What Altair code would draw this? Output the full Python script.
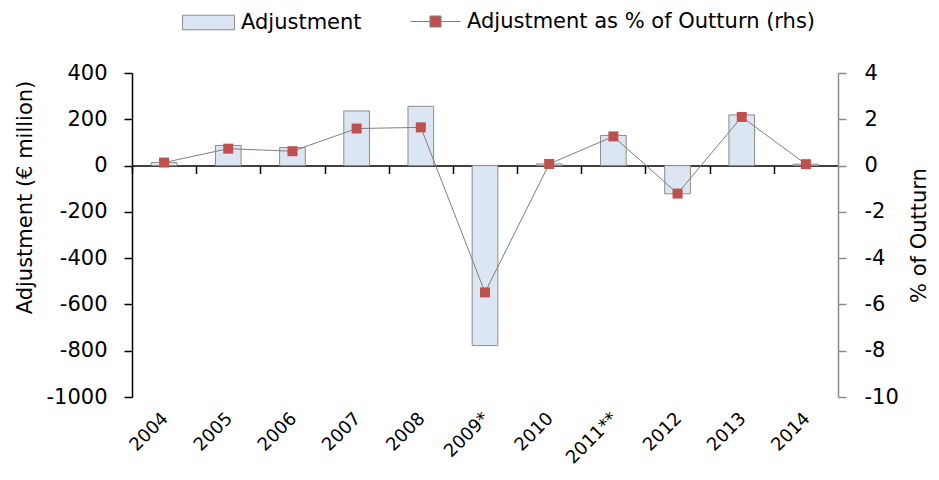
import altair as alt
import pandas as pd

years = ["2004", "2005", "2006", "2007", "2008", "2009*", "2010", "2011**", "2012", "2013", "2014"]
adjustment = [13, 87, 78, 236, 256, -778, 7, 130, -122, 219, 6]
pct_outturn = [0.13, 0.73, 0.62, 1.6, 1.65, -5.48, 0.07, 1.26, -1.21, 2.1, 0.06]
left_ticks = [-1000, -800, -600, -400, -200, 0, 200, 400]
right_ticks = [-10, -8, -6, -4, -2, 0, 2, 4]
bar_label = "Adjustment"
line_label = "Adjustment as % of Outturn (rhs)"
left_title = "Adjustment (€ million)"
right_title = "% of Outturn"

df = pd.DataFrame({
    "year": years,
    "adj": adjustment,
    "pct": pct_outturn,
    "bar_series": [bar_label] * len(years),
    "line_series": [line_label] * len(years),
})

W, H = 706, 324
n = len(years)
step = W / n
zero_off = -H * (0 - left_ticks[0]) / (left_ticks[-1] - left_ticks[0])
FONT = "DejaVu Sans"
FS = 21

x_enc = alt.X(
    "year:N", sort=years, title=None,
    scale=alt.Scale(paddingInner=0.6, paddingOuter=0.3),
    axis=alt.Axis(
        orient="bottom", offset=zero_off, domainColor="black", domainWidth=1.5,
        tickColor="black", tickWidth=1.5, tickSize=8, tickOffset=-step / 2,
        labelOffset=step / 2 + 1, labelAngle=315, labelAlign="right", labelBaseline="middle",
        labelPadding=242, labelFont=FONT, labelFontSize=18, labelColor="black",
    ),
)

bars = alt.Chart(df).mark_bar(stroke="#8c8c8c", strokeWidth=1).encode(
    x=x_enc,
    y=alt.Y(
        "adj:Q",
        scale=alt.Scale(domain=[left_ticks[0], left_ticks[-1]], nice=False),
        axis=alt.Axis(
            values=left_ticks, title=left_title, grid=False, labelExpr="datum.value + ''",
            domainColor="black", domainWidth=1.5, tickColor="black", tickWidth=1.5,
            tickSize=8, labelPadding=17, labelFont=FONT, labelFontSize=FS, labelColor="black",
            titleFont=FONT, titleFontSize=FS, titleFontWeight="normal", titleColor="black",
            titleX=-101, titleY=124, titleAlign="center", titleBaseline="alphabetic",
        ),
    ),
    fill=alt.Fill(
        "bar_series:N",
        scale=alt.Scale(domain=[bar_label], range=["#dce6f2"]),
        legend=alt.Legend(
            title=None, orient="none", legendX=50, legendY=-77, direction="horizontal",
            symbolType="M-1,-0.28L1,-0.28L1,0.28L-1,0.28Z", symbolSize=2704,
            symbolStrokeColor="#8c8c8c", symbolStrokeWidth=1, labelOffset=6, labelLimit=0,
            labelFont=FONT, labelFontSize=FS, labelColor="black", padding=0,
        ),
    ),
)

line = alt.Chart(df).mark_line(
    color="#7f7f7f", strokeWidth=1,
    point=alt.OverlayMarkDef(shape="square", filled=True, fill="#c0504d", size=100, opacity=1, strokeWidth=0),
).encode(
    x=x_enc,
    y=alt.Y(
        "pct:Q",
        scale=alt.Scale(domain=[right_ticks[0], right_ticks[-1]], nice=False),
        axis=alt.Axis(
            orient="right", values=right_ticks, title=right_title, grid=False, labelExpr="datum.value + ''",
            domainColor="#8c8c8c", domainWidth=1.5, tickColor="#8c8c8c", tickWidth=1.5,
            tickSize=8, labelPadding=18, labelFont=FONT, labelFontSize=FS, labelColor="black",
            titleFont=FONT, titleFontSize=FS, titleFontWeight="normal", titleColor="black",
            titleAngle=270, titleX=87, titleY=162, titleAlign="center", titleBaseline="alphabetic",
        ),
    ),
    stroke=alt.Stroke(
        "line_series:N",
        scale=alt.Scale(domain=[line_label], range=["#7f7f7f"]),
        legend=alt.Legend(
            title=None, orient="none", legendX=278, legendY=-77, direction="horizontal",
            symbolType="M-1,0L-0.22,0M0.22,0L1,0M-0.22,-0.22L0.22,-0.22L0.22,0.22L-0.22,0.22Z",
            symbolSize=2500, symbolStrokeWidth=1, labelOffset=6, labelLimit=0,
            symbolFillColor="#c0504d", symbolStrokeColor="#8c8c8c",
            labelFont=FONT, labelFontSize=FS, labelColor="black", padding=0,
        ),
    ),
)

chart = alt.layer(bars, line).resolve_scale(y="independent").properties(
    width=W, height=H,
    padding={"left": 124, "top": 65, "right": 93, "bottom": 75},
    autosize=alt.AutoSizeParams(type="none"),
).configure_view(stroke=None)

chart.save("out.html", embed_options={"renderer": "svg", "actions": False})
